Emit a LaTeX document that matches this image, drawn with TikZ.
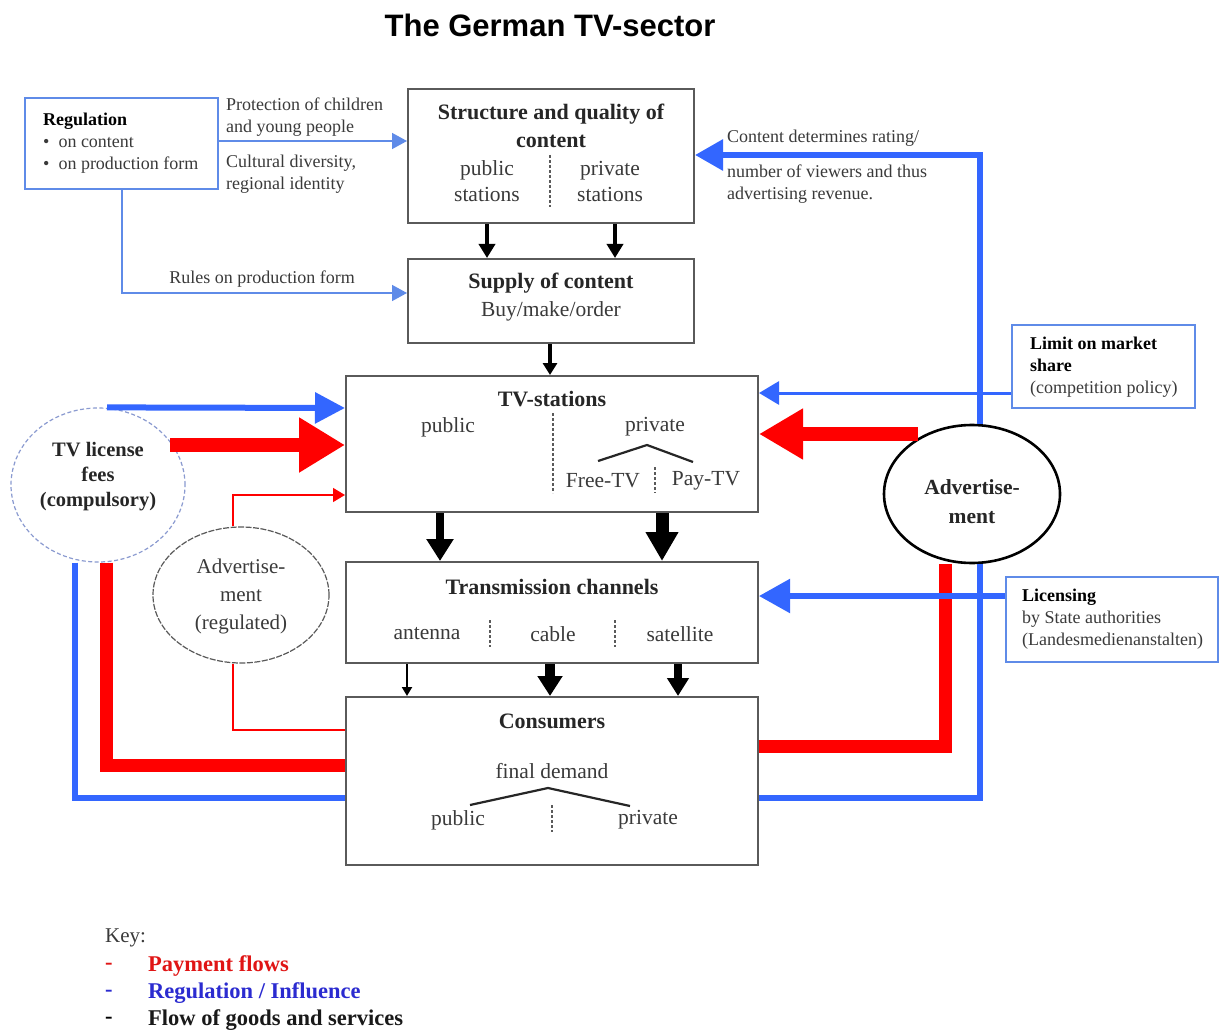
\documentclass[tikz,border=0pt]{standalone}
\usepackage{fontspec}
\setmainfont{Liberation Serif}
\newfontfamily\titlefont{Liberation Sans}
\usetikzlibrary{arrows.meta,shapes.geometric}
\definecolor{pblue}{HTML}{3366FF}
\definecolor{lblue}{HTML}{5F8BE8}
\definecolor{pred}{HTML}{FF0000}
\definecolor{boxgray}{HTML}{5A5A5A}
\definecolor{txtgray}{HTML}{3A3A3A}
\definecolor{keyblue}{HTML}{2B2BD0}
\definecolor{keyred}{HTML}{E01515}
\definecolor{licgray}{HTML}{8A9AD0}
\begin{document}
\begin{tikzpicture}[x=1pt,y=-1pt,
  box/.style={draw=boxgray,line width=2pt,rectangle,inner sep=0},
  rbox/.style={draw=lblue,line width=1.3pt,rectangle,inner sep=0},
  hd/.style={font=\fontsize{22}{28}\selectfont\bfseries,inner sep=0,align=center,text=black!85},
  bd/.style={font=\fontsize{21.5}{26}\selectfont,inner sep=0,align=center,text=txtgray},
  sm/.style={font=\fontsize{18}{22}\selectfont,inner sep=0,align=left,text=txtgray},
  kt/.style={font=\fontsize{22.5}{27}\selectfont\bfseries,inner sep=0,anchor=west},
  sep/.style={draw=boxgray,line width=1.2pt,dash pattern=on 3pt off 2pt},
  hat/.style={draw=black!85,line width=2.2pt},
  regarrow/.style={draw=lblue,line width=1.5pt,-{Triangle[length=15pt,width=16pt]}},
  redthick/.style={draw=pred,line width=13pt},
  bluemid/.style={draw=pblue,line width=5.5pt}
]
\useasboundingbox (0,0) rectangle (1220,1032);
\fill[white] (0,0) rectangle (1220,1032);

% title
\node[inner sep=0,font=\titlefont\fontsize{31}{36}\selectfont\bfseries] (title) at (550,25) {The German TV-sector};

% boxes
\node[rbox,minimum width=193pt,minimum height=91pt] (reg) at (121.5,143.5) {};
\node[box,minimum width=286pt,minimum height=134pt] (struct) at (551,156) {};
\node[box,minimum width=286pt,minimum height=84pt] (supply) at (551,301) {};
\node[box,minimum width=412pt,minimum height=136pt] (tv) at (552,444) {};
\node[box,minimum width=412pt,minimum height=101pt] (trans) at (552,612.5) {};
\node[box,minimum width=412pt,minimum height=168pt] (cons) at (552,781) {};
\node[rbox,minimum width=183pt,minimum height=83pt] (limit) at (1103.5,366.5) {};
\node[rbox,minimum width=212pt,minimum height=85pt] (licb) at (1112,619.5) {};
\node[ellipse,draw=licgray,line width=1.2pt,dash pattern=on 4pt off 2.5pt,minimum width=174pt,minimum height=154pt,inner sep=0] (lic) at (98,485) {};
\node[ellipse,draw=boxgray,line width=1.2pt,dash pattern=on 6pt off 1.5pt,minimum width=176pt,minimum height=136pt,inner sep=0] (advr) at (241,595) {};
\node[ellipse,draw=black,line width=2.6pt,minimum width=176pt,minimum height=138pt,inner sep=0] (adv) at (972,494) {};

% regulation texts
\node[sm,anchor=west] (regtxt) at (43,143) {\textcolor{black}{\textbf{Regulation}}\\\textbullet\ \ on content\\\textbullet\ \ on production form};
\node[sm,anchor=west] (prot) at (226,117) {Protection of children\\and young people};
\node[sm,anchor=west] (cult) at (226,174) {Cultural diversity,\\regional identity};
\node[sm] (rules) at (262,279) {Rules on production form};

% structure box
\node[hd] (structh) at (551,126) {Structure and quality of\\content};
\node[bd] (structpub) at (487,181) {public\\stations};
\node[bd] (structpri) at (610,181) {private\\stations};
\draw[sep] (550,155) -- (550,207);

% supply
\node[hd] (supplyh) at (551,283) {Supply of content};
\node[bd] (supplyt) at (551,311) {Buy/make/order};

% tv stations
\node[hd] (tvh) at (552,399) {TV-stations};
\node[bd] (tvpub) at (448,427) {public};
\node[bd] (tvpri) at (655,427) {private};
\node[bd] (free) at (603,481) {Free-TV};
\node[bd] (pay) at (706,481) {Pay-TV};
\draw[sep] (553,413) -- (553,493);
\draw[sep] (655,467) -- (655,493);
\draw[hat] (598,461) -- (647,445) -- (693,462);

% transmission
\node[hd] (transh) at (552,587) {Transmission channels};
\node[bd] (ant) at (427,634) {antenna};
\node[bd] (cab) at (553,634) {cable};
\node[bd] (sat) at (680,634) {satellite};
\draw[sep] (490,620) -- (490,647);
\draw[sep] (615,620) -- (615,647);

% consumers
\node[hd] (consh) at (552,721) {Consumers};
\node[bd] (fd) at (552,771) {final demand};
\node[bd] (cpub) at (458,820) {public};
\node[bd] (cpri) at (648,820) {private};
\draw[sep] (552,805) -- (552,832);
\draw[hat] (470,805) -- (548,788) -- (630,806);

% ellipse texts
\node[hd,font=\fontsize{20.5}{25}\selectfont\bfseries] (lictxt) at (98,477) {TV license\\fees\\(compulsory)};
\node[bd,font=\fontsize{21}{28}\selectfont] (advrtxt) at (241,596) {Advertise-\\ment\\(regulated)};
\node[hd,font=\fontsize{21.5}{29}\selectfont\bfseries] (advtxt) at (972,502) {Advertise-\\ment};

% right side texts
\node[sm,anchor=west] (limtxt) at (1030,367) {\textcolor{black}{\textbf{Limit on market}}\\\textcolor{black}{\textbf{share}}\\(competition policy)};
\node[sm,anchor=west] (licbtxt) at (1022,619) {\textcolor{black}{\textbf{Licensing}}\\by State authorities\\(Landesmedienanstalten)};
\node[sm,anchor=west] (cd1) at (727,138) {Content determines rating/};
\node[sm,anchor=west] (cd2) at (727,184) {number of viewers and thus\\advertising revenue.};

% regulation arrows
\draw[regarrow] (reg.east |- 0,141) -- (struct.west |- 0,141);
\draw[regarrow] (reg.south -| 122,0) |- (supply.west |- 0,293);

% goods flows
\draw[black,line width=4pt,-{Triangle[length=14pt,width=16pt]}] (struct.south -| 487,0) -- (supply.north -| 487,0);
\draw[black,line width=4pt,-{Triangle[length=14pt,width=16pt]}] (struct.south -| 615,0) -- (supply.north -| 615,0);
\draw[black,line width=3.5pt,-{Triangle[length=12pt,width=14pt]}] (supply.south -| 550,0) -- (tv.north -| 550,0);
\draw[black,line width=8pt,-{Triangle[length=22pt,width=26pt]}] (tv.south -| 440,0) -- (trans.north -| 440,0);
\draw[black,line width=13pt,-{Triangle[length=29pt,width=31pt]}] (tv.south -| 662,0) -- (trans.north -| 662,0);
\draw[black,line width=2pt,-{Triangle[length=9pt,width=10pt]}] (trans.south -| 407,0) -- (cons.north -| 407,0);
\draw[black,line width=10pt,-{Triangle[length=20pt,width=24pt]}] (trans.south -| 550,0) -- (cons.north -| 550,0);
\draw[black,line width=8pt,-{Triangle[length=18pt,width=21pt]}] (trans.south -| 678,0) -- (cons.north -| 678,0);

% left side flows
\coordinate (licR) at (170,445);
\draw[pblue,line width=6pt,-{Triangle[length=30pt,width=30pt]}] (lic.north -| 107,0) -- (tv.west |- 0,408);
\draw[pred,line width=14pt,-{Triangle[length=46pt,width=52pt]}] (licR) -- (licR -| tv.west);
\draw[pred,line width=1.2pt,-{Triangle[length=12pt,width=14pt]}] (advr.north -| 233,0) |- (tv.west |- 0,495);
\draw[pred,line width=1.2pt] (advr.south -| 233,0) |- (cons.west |- 0,730);
\draw[redthick] (lic.south -| 106,0) |- (cons.west |- 0,765);
\draw[bluemid] (lic.south -| 75,0) |- (cons.west |- 0,798);

% right side flows
\coordinate (advL) at (918,434);
\draw[pblue,line width=6pt,-{Triangle[length=28pt,width=30pt]}] (adv.north -| 980,0) |- (struct.east |- 0,155);
\draw[pred,line width=14pt,-{Triangle[length=44pt,width=48pt]}] (advL) -- (advL -| tv.east);
\draw[redthick] (adv.south -| 945,0) |- (cons.east |- 0,746);
\draw[bluemid] (adv.south -| 980,0) |- (cons.east |- 0,798);
\draw[pblue,line width=3pt,-{Triangle[length=20pt,width=23pt]}] (limit.west |- 0,393) -- (tv.east |- 0,393);
\draw[pblue,line width=5.5pt,-{Triangle[length=31pt,width=33pt]}] (licb.west |- 0,596) -- (trans.east |- 0,596);

% key
\node[inner sep=0,anchor=west,font=\fontsize{21}{27}\selectfont,text=txtgray] (key) at (105,938) {Key:};
\node[kt,text=keyred] (k1d) at (105,966) {-};
\node[kt,text=keyblue] (k2d) at (105,993) {-};
\node[kt,text=black] (k3d) at (105,1020) {-};
\node[kt,text=keyred] (k1) at (148,966) {Payment flows};
\node[kt,text=keyblue] (k2) at (148,993) {Regulation / Influence};
\node[kt,text=black!90] (k3) at (148,1020) {Flow of goods and services};
\end{tikzpicture}
\end{document}
